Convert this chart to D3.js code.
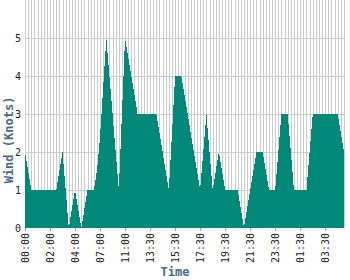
<!DOCTYPE html>
<html>
<head>
<meta charset="utf-8">
<script src="https://cdn.jsdelivr.net/npm/d3@7"></script>
<style>
  body { margin: 0; background: #fff; }
  svg { display: block; }
</style>
</head>
<body>
<div id="chart"></div>
<script>
// Data: wind speed readings (knots), one per sample time
var times = [
  "00:00","00:15","00:30","00:45","01:00","01:15","01:30","01:45",
  "02:00","02:15","02:30","02:45","03:00","03:15","03:30","03:45",
  "04:00","04:15","04:30","04:45","05:00","05:30","06:00","06:30",
  "07:00","07:30","08:00","08:30","09:00","09:30","10:00","10:30",
  "11:00","11:15","11:30","11:45","12:00","12:15","12:30","13:00",
  "13:30","13:45","14:00","14:15","14:30","14:45","15:00","15:15",
  "15:30","15:45","16:00","16:15","16:30","16:45","17:00","17:15",
  "17:30","17:45","18:00","18:15","18:30","18:45","19:00","19:15",
  "19:30","19:45","20:00","20:15","20:30","20:45","21:00","21:15",
  "21:30","21:45","22:00","22:15","22:30","22:45","23:00","23:15",
  "23:30","23:45","00:00 ","00:15 ","00:30 ","00:45 ","01:00 ","01:15 ",
  "01:30 ","01:45 ","02:00 ","02:15 ","02:30 ","02:45 ","03:00 ","03:15 ",
  "03:30 ","03:45 ","04:00 ","04:15 ","04:30 ","04:45 ","05:00 "
];

var wind = [
  2, 1.5, 1, 1, 1, 1, 1, 1,
  1, 1, 1, 1.5, 2, 1, 0, 0.5,
  1, 0.5, 0, 0.5, 1, 1, 1, 1.5,
  2.4, 3.7, 5, 4, 3, 2, 1, 3,
  5, 4.5, 4, 3.5, 3, 3, 3, 3,
  3, 3, 3, 2.5, 2, 1.5, 1, 2.5,
  4, 4, 4, 3.5, 3, 2.5, 2, 1.5,
  1, 2, 3, 2, 1, 1.5, 2, 1.5,
  1, 1, 1, 1, 1, 0.5, 0, 0.5,
  1, 1.5, 2, 2, 2, 1.5, 1, 1,
  1, 2, 3, 3, 3, 2, 1, 1,
  1, 1, 1, 2, 3, 3, 3, 3,
  3, 3, 3, 3, 3, 2.5, 2
];

var yTicks = [0, 1, 2, 3, 4, 5];
var xTickEvery = 8;

var width = 350, height = 280;
var plot = {left: 25, right: 344, top: 0, bottom: 228};

var svg = d3.select("#chart").append("svg")
    .attr("width", width)
    .attr("height", height);

var x = d3.scalePoint()
    .domain(times)
    .range([plot.left, plot.right]);

var y = d3.scaleLinear()
    .domain([0, 6])
    .range([plot.bottom, plot.top]);

// grid
var grid = svg.append("g")
    .attr("class", "grid")
    .style("shape-rendering", "crispEdges");

grid.selectAll(".vline")
    .data(times)
    .enter().append("line")
    .attr("class", "vline")
    .attr("x1", function(d) { return Math.round(x(d)) + 0.5; })
    .attr("x2", function(d) { return Math.round(x(d)) + 0.5; })
    .attr("y1", plot.top)
    .attr("y2", plot.bottom)
    .style("stroke", "#cccccc")
    .style("stroke-width", 1);

grid.selectAll(".hline")
    .data(yTicks.filter(function(d) { return d > 0; }))
    .enter().append("line")
    .attr("class", "hline")
    .attr("x1", plot.left)
    .attr("x2", plot.right)
    .attr("y1", function(d) { return Math.round(y(d)) + 0.5; })
    .attr("y2", function(d) { return Math.round(y(d)) + 0.5; })
    .style("stroke", "#cccccc")
    .style("stroke-width", 1);

// area
var area = d3.area()
    .x(function(d, i) { return x(times[i]); })
    .y0(y(0))
    .y1(function(d) { return y(d); });

svg.append("path")
    .datum(wind)
    .attr("d", area)
    .style("fill", "#008878")
    .style("shape-rendering", "crispEdges");

// axes
var xAxis = d3.axisBottom(x)
    .tickValues(times.filter(function(d, i) { return i % xTickEvery === 0; }))
    .tickSize(3)
    .tickFormat(function(d) { return d.trim(); });

var gx = svg.append("g")
    .attr("transform", "translate(0," + plot.bottom + ")")
    .call(xAxis);

gx.select(".domain").remove();
gx.selectAll(".tick line").style("stroke", "#999");
gx.selectAll(".tick text")
    .attr("transform", "rotate(-90)")
    .attr("x", -5)
    .attr("y", 0)
    .attr("dy", "0.35em")
    .attr("text-anchor", "end")
    .style("font", "10px 'DejaVu Sans Mono', monospace")
    .style("fill", "#222");

var yAxis = d3.axisLeft(y)
    .tickValues(yTicks)
    .tickSize(0)
    .tickPadding(4)
    .tickFormat(d3.format("d"));

var gy = svg.append("g")
    .attr("transform", "translate(" + plot.left + ",0)")
    .call(yAxis);

gy.select(".domain").remove();
gy.selectAll(".tick text")
    .style("font", "10px 'DejaVu Sans Mono', monospace")
    .style("fill", "#222");

// titles
svg.append("text")
    .attr("x", width / 2)
    .attr("y", 276)
    .attr("text-anchor", "middle")
    .style("font", "bold 12px 'DejaVu Sans Mono', monospace")
    .style("fill", "#4b6987")
    .text("Time");

svg.append("text")
    .attr("transform", "translate(13," + (height / 2) + ") rotate(-90)")
    .attr("text-anchor", "middle")
    .style("font", "bold 12px 'DejaVu Sans Mono', monospace")
    .style("fill", "#4b6987")
    .text("Wind (Knots)");
</script>
</body>
</html>
